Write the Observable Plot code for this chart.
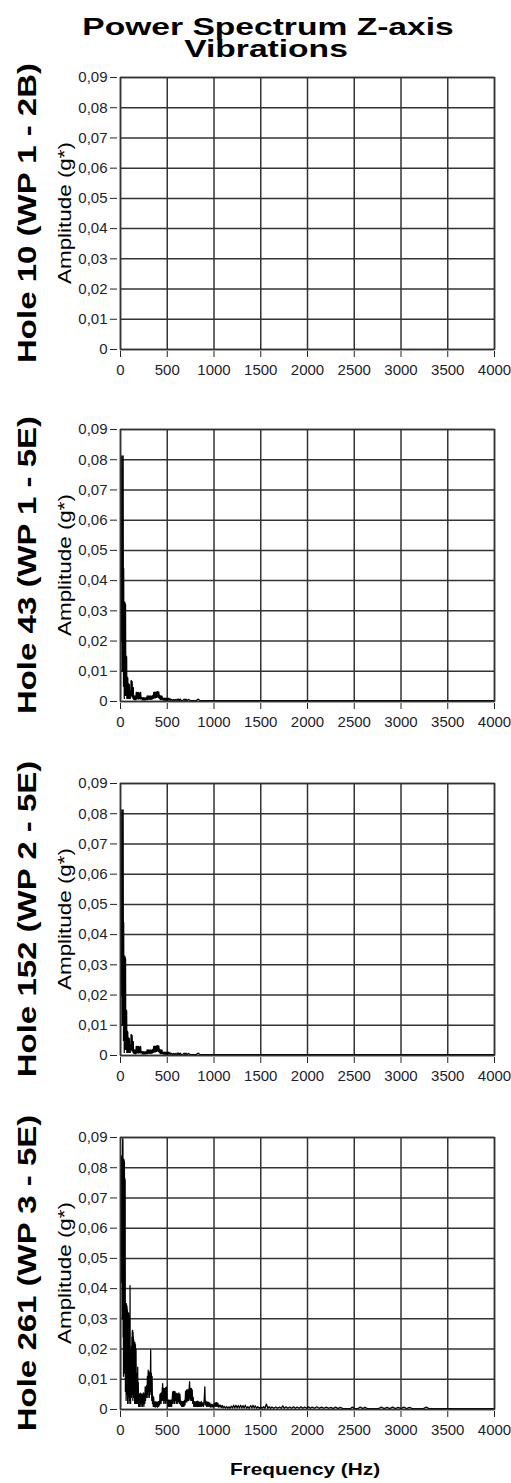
<!DOCTYPE html>
<html>
<head>
<meta charset="utf-8">
<script src="https://cdn.jsdelivr.net/npm/d3@7"></script>
<script src="https://cdn.jsdelivr.net/npm/@observablehq/plot@0.6"></script>
<style>
  body { margin: 0; background: #fff; }
  #chart { position: relative; width: 511px; height: 1483px; overflow: hidden; }
  #chart svg.panel { position: absolute; left: 0; }
  #labels { position: absolute; left: 0; top: 0; pointer-events: none; }
</style>
</head>
<body>
<div id="chart"></div>
<script>
// ---- Data -----------------------------------------------------------------
const titleLines = ["Power Spectrum Z-axis", "Vibrations"];
const rowLabels = ["Hole 10 (WP 1 - 2B)", "Hole 43 (WP 1 - 5E)", "Hole 152 (WP 2 - 5E)", "Hole 261 (WP 3 - 5E)"];
const yLabel = "Amplitude (g*)";
const xLabel = "Frequency (Hz)";
const xTicks = [0, 500, 1000, 1500, 2000, 2500, 3000, 3500, 4000];
const yTicks = [0, 0.01, 0.02, 0.03, 0.04, 0.05, 0.06, 0.07, 0.08, 0.09];

// Spectra as [frequency Hz, amplitude g*]
const hole10Spectrum = [];

const hole43Spectrum = [
  [0,0.0010],[2,0.0445],[4,0.0300],[6,0.0445],[8,0.0200],[10,0.0445],[12,0.0350],[14,0.0813],
  [16,0.0440],[18,0.0100],[20,0.0445],[22,0.0300],[24,0.0440],[26,0.0420],[28,0.0813],[30,0.0440],
  [32,0.0050],[34,0.0440],[36,0.0200],[38,0.0330],[40,0.0010],[42,0.0328],[44,0.0150],[46,0.0329],
  [48,0.0060],[50,0.0325],[52,0.0020],[54,0.0320],[56,0.0100],[58,0.0152],[60,0.0020],[62,0.0150],
  [64,0.0060],[66,0.0148],[68,0.0010],[70,0.0080],[72,0.0030],[74,0.0080],[76,0.0010],[78,0.0078],
  [80,0.0030],[83,0.0058],[86,0.0010],[89,0.0058],[92,0.0020],[95,0.0056],[98,0.0010],[101,0.0035],
  [104,0.0010],[107,0.0035],[110,0.0020],[113,0.0069],[116,0.0020],[119,0.0068],[122,0.0015],[125,0.0066],
  [128,0.0020],[131,0.0047],[134,0.0010],[137,0.0046],[140,0.0008],[144,0.0019],[148,0.0006],[152,0.0019],
  [156,0.0006],[160,0.0018],[164,0.0006],[168,0.0030],[172,0.0008],[176,0.0030],[180,0.0010],[185,0.0029],
  [190,0.0008],[195,0.0030],[200,0.0010],[205,0.0028],[210,0.0008],[215,0.0030],[220,0.0010],[225,0.0014],
  [231,0.0005],[237,0.0013],[243,0.0005],[249,0.0013],[255,0.0005],[261,0.0012],[267,0.0005],[273,0.0013],
  [279,0.0006],[285,0.0019],[291,0.0006],[297,0.0019],[303,0.0008],[309,0.0018],[315,0.0007],[321,0.0019],
  [327,0.0007],[333,0.0018],[339,0.0008],[345,0.0020],[350,0.0010],[355,0.0030],[360,0.0012],[365,0.0031],
  [370,0.0012],[375,0.0030],[380,0.0013],[385,0.0032],[390,0.0014],[395,0.0033],[400,0.0033],[405,0.0014],
  [410,0.0031],[415,0.0010],[420,0.0020],[426,0.0006],[432,0.0019],[438,0.0006],[444,0.0018],[450,0.0006],
  [456,0.0011],[463,0.0004],[470,0.0011],[477,0.0004],[484,0.0011],[491,0.0004],[498,0.0011],[505,0.0004],
  [512,0.0011],[520,0.0004],[528,0.0010],[536,0.0004],[545,0.0007],[555,0.0003],[565,0.0007],[575,0.0003],
  [585,0.0007],[595,0.0003],[607,0.0008],[614,0.0003],[622,0.0008],[630,0.0003],[640,0.0008],[650,0.0003],
  [665,0.0003],[680,0.0008],[690,0.0003],[700,0.0008],[710,0.0003],[729,0.0007],[745,0.0003],[780,0.0003],
  [810,0.0003],[833,0.0008],[850,0.0003],[2000,0.0003],[4000,0.0003]
];

// The Hole 152 trace coincides with the Hole 43 trace.
const hole152Spectrum = hole43Spectrum.slice();

const hole261Spectrum = [
  [0,0.0010],[2,0.0838],[4,0.0790],[6,0.0840],[8,0.0600],[10,0.0836],[12,0.0420],[14,0.0832],
  [16,0.0700],[18,0.0835],[20,0.0300],[22,0.0838],[24,0.0896],[26,0.0890],[28,0.0240],[30,0.0830],
  [32,0.0110],[34,0.0828],[36,0.0500],[38,0.0826],[40,0.0300],[42,0.0820],[44,0.0120],[46,0.0765],
  [48,0.0400],[50,0.0760],[52,0.0060],[54,0.0350],[56,0.0150],[58,0.0348],[60,0.0030],[62,0.0350],
  [64,0.0200],[66,0.0345],[68,0.0050],[70,0.0340],[72,0.0120],[74,0.0330],[76,0.0020],[78,0.0320],
  [80,0.0150],[82,0.0318],[84,0.0040],[86,0.0320],[88,0.0100],[90,0.0310],[92,0.0020],[94,0.0300],
  [96,0.0120],[98,0.0200],[100,0.0030],[102,0.0410],[104,0.0080],[106,0.0197],[108,0.0020],[110,0.0195],
  [112,0.0090],[114,0.0190],[116,0.0040],[118,0.0210],[120,0.0150],[122,0.0240],[124,0.0050],[126,0.0260],
  [128,0.0120],[130,0.0262],[132,0.0030],[134,0.0255],[136,0.0140],[138,0.0240],[140,0.0040],[142,0.0230],
  [145,0.0100],[148,0.0220],[151,0.0020],[154,0.0222],[157,0.0080],[160,0.0215],[163,0.0020],[166,0.0200],
  [169,0.0060],[172,0.0120],[175,0.0020],[178,0.0100],[181,0.0030],[184,0.0140],[187,0.0020],[190,0.0090],
  [194,0.0010],[198,0.0050],[202,0.0010],[206,0.0052],[210,0.0020],[214,0.0054],[218,0.0010],[222,0.0050],
  [226,0.0020],[230,0.0052],[234,0.0010],[238,0.0048],[242,0.0020],[246,0.0055],[250,0.0010],[255,0.0050],
  [260,0.0020],[264,0.0075],[268,0.0030],[272,0.0074],[276,0.0040],[280,0.0080],[284,0.0050],[288,0.0110],
  [292,0.0040],[296,0.0130],[300,0.0060],[304,0.0125],[308,0.0040],[312,0.0120],[316,0.0050],[320,0.0125],
  [323,0.0197],[326,0.0060],[330,0.0120],[334,0.0030],[338,0.0110],[342,0.0020],[346,0.0045],[350,0.0010],
  [355,0.0040],[360,0.0010],[366,0.0025],[372,0.0008],[378,0.0026],[384,0.0010],[390,0.0024],[396,0.0008],
  [402,0.0026],[408,0.0010],[414,0.0028],[418,0.0015],[422,0.0050],[426,0.0020],[430,0.0053],[434,0.0020],
  [438,0.0055],[442,0.0030],[446,0.0065],[451,0.0086],[455,0.0030],[459,0.0070],[463,0.0020],[467,0.0070],
  [471,0.0030],[475,0.0068],[479,0.0020],[483,0.0072],[487,0.0030],[493,0.0075],[498,0.0020],[503,0.0030],
  [509,0.0010],[515,0.0032],[521,0.0010],[527,0.0030],[533,0.0010],[540,0.0032],[547,0.0010],[553,0.0035],
  [558,0.0058],[562,0.0020],[566,0.0060],[570,0.0030],[574,0.0058],[578,0.0020],[582,0.0060],[587,0.0030],
  [592,0.0054],[597,0.0020],[602,0.0053],[607,0.0020],[612,0.0052],[618,0.0025],[624,0.0055],[630,0.0020],
  [636,0.0050],[642,0.0015],[648,0.0028],[654,0.0010],[660,0.0026],[666,0.0010],[672,0.0027],[678,0.0010],
  [684,0.0030],[690,0.0015],[696,0.0060],[700,0.0025],[705,0.0064],[710,0.0025],[715,0.0065],[720,0.0030],
  [725,0.0066],[730,0.0030],[735,0.0075],[739,0.0092],[743,0.0035],[748,0.0070],[752,0.0030],[757,0.0070],
  [762,0.0030],[767,0.0065],[772,0.0020],[778,0.0040],[784,0.0010],[790,0.0026],[796,0.0010],[802,0.0025],
  [808,0.0010],[814,0.0026],[820,0.0010],[826,0.0028],[832,0.0010],[838,0.0025],[845,0.0010],[852,0.0024],
  [858,0.0010],[865,0.0026],[872,0.0010],[880,0.0022],[888,0.0010],[895,0.0030],[902,0.0075],[907,0.0015],
  [913,0.0028],[920,0.0010],[927,0.0025],[934,0.0010],[941,0.0024],[948,0.0010],[955,0.0022],[962,0.0008],
  [970,0.0018],[978,0.0008],[986,0.0016],[994,0.0008],[1002,0.0020],[1008,0.0010],[1015,0.0022],[1022,0.0010],
  [1028,0.0023],[1035,0.0010],[1041,0.0021],[1048,0.0008],[1056,0.0015],[1064,0.0008],[1072,0.0014],[1080,0.0006],
  [1090,0.0013],[1100,0.0005],[1112,0.0010],[1124,0.0004],[1136,0.0010],[1148,0.0004],[1160,0.0009],[1172,0.0004],
  [1185,0.0011],[1198,0.0005],[1210,0.0014],[1222,0.0005],[1235,0.0014],[1248,0.0005],[1260,0.0013],[1272,0.0005],
  [1285,0.0014],[1298,0.0005],[1310,0.0013],[1322,0.0005],[1335,0.0014],[1348,0.0004],[1362,0.0009],[1376,0.0004],
  [1392,0.0013],[1405,0.0005],[1418,0.0014],[1430,0.0005],[1442,0.0012],[1456,0.0004],[1470,0.0009],[1485,0.0004],
  [1500,0.0008],[1515,0.0004],[1530,0.0009],[1545,0.0004],[1560,0.0018],[1575,0.0004],[1590,0.0009],[1605,0.0004],
  [1620,0.0008],[1640,0.0004],[1660,0.0008],[1680,0.0004],[1700,0.0008],[1720,0.0004],[1735,0.0012],[1750,0.0004],
  [1770,0.0009],[1790,0.0004],[1810,0.0008],[1830,0.0004],[1850,0.0009],[1870,0.0004],[1890,0.0008],[1910,0.0004],
  [1930,0.0009],[1950,0.0004],[1970,0.0008],[1990,0.0004],[2010,0.0009],[2030,0.0004],[2050,0.0008],[2075,0.0004],
  [2100,0.0009],[2125,0.0004],[2150,0.0008],[2175,0.0004],[2200,0.0008],[2225,0.0004],[2250,0.0007],[2275,0.0003],
  [2300,0.0008],[2325,0.0003],[2350,0.0007],[2380,0.0003],[2460,0.0003],[2480,0.0008],[2500,0.0003],[2540,0.0003],
  [2565,0.0008],[2590,0.0003],[2615,0.0007],[2640,0.0003],[2760,0.0003],[2790,0.0008],[2820,0.0003],[2850,0.0007],
  [2880,0.0003],[2910,0.0008],[2940,0.0003],[2970,0.0007],[3000,0.0003],[3030,0.0008],[3060,0.0003],[3090,0.0007],
  [3120,0.0003],[3240,0.0003],[3270,0.0008],[3300,0.0003],[4000,0.0003]
];

const spectra = [hole10Spectrum, hole43Spectrum, hole152Spectrum, hole261Spectrum];

// ---- Layout ---------------------------------------------------------------
const W = 511;
const panelTops = [77, 429, 783, 1137];
const panelH = 272;
const MT = 6, MB = 40, ML = 120, MR = 17;
const gridColor = "#333";
const fmtY = d => d === 0 ? "0" : d.toFixed(2).replace(".", ",");
const font = "'Liberation Sans', Arial, sans-serif";

const chart = document.getElementById("chart");

spectra.forEach((data, i) => {
  const svg = Plot.plot({
    width: W,
    height: panelH + MT + MB,
    marginLeft: ML, marginRight: MR, marginTop: MT, marginBottom: MB,
    style: {fontFamily: font, fontSize: "15px", color: "#1d1d2b", background: "transparent", overflow: "visible"},
    x: {domain: [0, 4000]},
    y: {domain: [0, 0.09]},
    marks: [
      Plot.gridX({ticks: xTicks, stroke: gridColor, strokeOpacity: 1, strokeWidth: 1.5}),
      Plot.gridY({ticks: yTicks, stroke: gridColor, strokeOpacity: 1, strokeWidth: 1.5}),
      Plot.lineY(data, {x: d => d[0], y: d => d[1], stroke: "#000", strokeWidth: 1.25, clip: true}),
      Plot.frame({stroke: gridColor, strokeWidth: 1.5}),
      Plot.axisX({ticks: xTicks, tickSize: 6, dy: 2, tickPadding: 7, label: null, tickFormat: d => String(d), stroke: "#222"}),
      Plot.axisY({ticks: yTicks, tickSize: 7, dx: -3, tickPadding: 3, label: null, tickFormat: fmtY, stroke: "#222"})
    ]
  });
  svg.classList.add("panel");
  svg.style.top = (panelTops[i] - MT) + "px";
  chart.appendChild(svg);
});

// ---- Titles and labels ----------------------------------------------------
const ann = d3.select(chart).append("svg")
  .attr("id", "labels").attr("width", W).attr("height", 1483)
  .attr("font-family", font).attr("fill", "#000");

function label(text, {x, y, size, weight = "normal", sx = 1, rotate = 0}) {
  ann.append("text")
    .attr("transform", `translate(${x},${y}) rotate(${rotate}) scale(${sx},1)`)
    .attr("text-anchor", "middle")
    .attr("font-size", size)
    .attr("font-weight", weight)
    .text(text);
}

label(titleLines[0], {x: 268, y: 35, size: 24, weight: "bold", sx: 1.4});
label(titleLines[1], {x: 266, y: 57, size: 24, weight: "bold", sx: 1.4});

panelTops.forEach((top, i) => {
  const cy = top + panelH / 2;
  label(rowLabels[i], {x: 36, y: cy, size: 25, weight: "bold", sx: 1.32, rotate: -90});
  label(yLabel, {x: 71, y: cy, size: 19, sx: 1.18, rotate: -90});
});

label(xLabel, {x: 305, y: 1475, size: 16, weight: "bold", sx: 1.3});
</script>
</body>
</html>
